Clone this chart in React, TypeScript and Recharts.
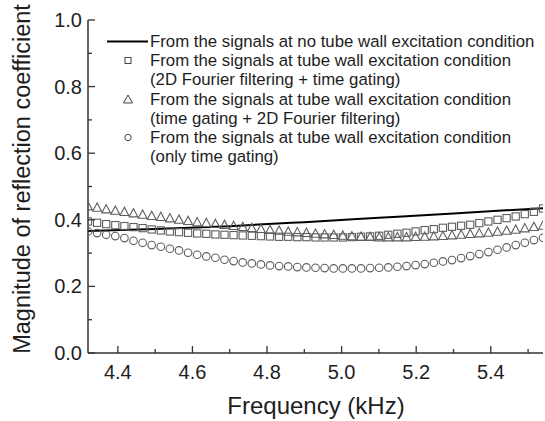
import React from "react";
import { ComposedChart, Line, XAxis, YAxis, Legend } from "recharts";

// frequency (kHz) of each measured point
const freqs = [
  4.32, 4.3444, 4.3688, 4.3932, 4.4176, 4.442, 4.4664, 4.4908, 4.5152, 4.5396, 4.564, 4.5884, 4.6128,
  4.6372, 4.6616, 4.686, 4.7104, 4.7348, 4.7592, 4.7836, 4.808, 4.8324, 4.8568, 4.8812, 4.9056, 4.93,
  4.9544, 4.9788, 5.0032, 5.0276, 5.052, 5.0764, 5.1008, 5.1252, 5.1496, 5.174, 5.1984, 5.2228, 5.2472,
  5.2716, 5.296, 5.3204, 5.3448, 5.3692, 5.3936, 5.418, 5.4424, 5.4668, 5.4912, 5.5156, 5.54,
];

// 2D Fourier filtering + time gating (squares)
const squareVals = [
  0.395, 0.391, 0.387, 0.384, 0.381, 0.378, 0.375, 0.371, 0.368, 0.365, 0.363, 0.361, 0.359,
  0.358, 0.356, 0.355, 0.354, 0.353, 0.352, 0.351, 0.35, 0.349, 0.349, 0.348, 0.348, 0.347,
  0.347, 0.347, 0.347, 0.348, 0.349, 0.35, 0.352, 0.355, 0.358, 0.361, 0.365, 0.369, 0.372,
  0.376, 0.379, 0.382, 0.385, 0.39, 0.395, 0.4, 0.405, 0.41, 0.417, 0.424, 0.434,
];

// time gating + 2D Fourier filtering (triangles)
const triangleVals = [
  0.44, 0.436, 0.431, 0.427, 0.423, 0.419, 0.415, 0.411, 0.408, 0.404, 0.4, 0.396, 0.392,
  0.39, 0.387, 0.384, 0.381, 0.378, 0.375, 0.372, 0.369, 0.367, 0.364, 0.362, 0.36, 0.358,
  0.356, 0.354, 0.352, 0.35, 0.349, 0.348, 0.347, 0.347, 0.347, 0.347, 0.348, 0.349, 0.35,
  0.351, 0.353, 0.355, 0.357, 0.359, 0.361, 0.364, 0.367, 0.37, 0.374, 0.378, 0.382,
];

// only time gating (circles)
const circleVals = [
  0.365, 0.36, 0.355, 0.351, 0.345, 0.337, 0.331, 0.324, 0.319, 0.313, 0.308, 0.301, 0.295,
  0.29, 0.286, 0.28, 0.276, 0.272, 0.269, 0.266, 0.263, 0.261, 0.26, 0.258, 0.257, 0.256,
  0.255, 0.254, 0.254, 0.254, 0.254, 0.255, 0.256, 0.257, 0.259, 0.261, 0.264, 0.267, 0.271,
  0.275, 0.279, 0.285, 0.291, 0.297, 0.303, 0.31, 0.317, 0.324, 0.331, 0.339, 0.346,
];

// no tube wall excitation (solid line)
const lineFreqs = [4.32, 4.5, 4.7, 4.9, 5.1, 5.3, 5.54];
const lineVals = [0.366, 0.372, 0.381, 0.393, 0.406, 0.419, 0.435];

const xTicks = [4.4, 4.5, 4.6, 4.7, 4.8, 4.9, 5.0, 5.1, 5.2, 5.3, 5.4, 5.5];
const yTicks = [0, 0.1, 0.2, 0.3, 0.4, 0.5, 0.6, 0.7, 0.8, 0.9, 1.0];

const legendItems = [
  { marker: "line", lines: ["From the signals at no tube wall excitation condition"] },
  { marker: "square", lines: ["From the signals at tube wall excitation condition", "(2D Fourier filtering + time gating)"] },
  { marker: "triangle", lines: ["From the signals at tube wall excitation condition", "(time gating + 2D Fourier filtering)"] },
  { marker: "circle", lines: ["From the signals at tube wall excitation condition", "(only time gating)"] },
];

const rows = freqs.map((f, i) => ({ f, s: squareVals[i], t: triangleVals[i], c: circleVals[i] }));
const lineData = lineFreqs.map((f, i) => ({ f, v: lineVals[i] }));

const FONT = "'Liberation Sans', Arial, sans-serif";
const AXIS = "#333";
const MARK = "#5e5e5e";
const TEXT = "#1e1e1e";

const isMajor = (v: number) => Math.round(v * 10) % 2 === 0;

const XTick = (props: any) => {
  const { x, y, payload } = props;
  const major = isMajor(payload.value);
  return (
    <g>
      <line x1={x} x2={x} y1={y} y2={y - (major ? 7 : 4)} stroke={AXIS} strokeWidth={1.3} />
      {major && (
        <text x={x} y={y + 19} textAnchor="middle" dominantBaseline="central" fontSize={20} fill={TEXT} fontFamily={FONT}>
          {payload.value.toFixed(1)}
        </text>
      )}
    </g>
  );
};

const YTick = (props: any) => {
  const { x, y, payload } = props;
  const major = isMajor(payload.value);
  return (
    <g>
      <line x1={x} x2={x + (major ? 7 : 4)} y1={y} y2={y} stroke={AXIS} strokeWidth={1.3} />
      {major && (
        <text x={x - 6} y={y} textAnchor="end" dominantBaseline="central" fontSize={20} fill={TEXT} fontFamily={FONT}>
          {payload.value.toFixed(1)}
        </text>
      )}
    </g>
  );
};

const squareDot = (p: any) => (
  <rect key={`s-${p.index}`} x={p.cx - 3.6} y={p.cy - 3.6} width={7.2} height={7.2} fill="none" stroke={MARK} strokeWidth={1.1} />
);
const triangleDot = (p: any) => (
  <polygon
    key={`t-${p.index}`}
    points={`${p.cx},${p.cy - 4.9} ${p.cx - 4.4},${p.cy + 3.4} ${p.cx + 4.4},${p.cy + 3.4}`}
    fill="none"
    stroke={MARK}
    strokeWidth={1.1}
  />
);
const circleDot = (p: any) => (
  <circle key={`c-${p.index}`} cx={p.cx} cy={p.cy} r={3.8} fill="none" stroke={MARK} strokeWidth={1.1} />
);

const LegendMarker = ({ kind }: { kind: string }) => (
  <svg width={46} height={19} style={{ display: "block", flexShrink: 0 }}>
    {kind === "line" && <line x1={3} x2={44} y1={9.5} y2={9.5} stroke="#000" strokeWidth={2} />}
    {kind === "square" && <rect x={21} y={6.5} width={6} height={6} fill="none" stroke="#444" strokeWidth={1} />}
    {kind === "triangle" && <polygon points="24,5 19.5,13 28.5,13" fill="none" stroke="#444" strokeWidth={1} />}
    {kind === "circle" && <circle cx={24} cy={9.5} r={3.2} fill="none" stroke="#444" strokeWidth={1} />}
  </svg>
);

const renderLegend = () => (
  <div style={{ fontFamily: FONT, fontSize: 16.8, lineHeight: "19.2px", color: TEXT }}>
    {legendItems.map((item) => (
      <div key={item.marker} style={{ display: "flex", alignItems: "flex-start" }}>
        <LegendMarker kind={item.marker} />
        <div>
          {item.lines.map((l) => (
            <div key={l} style={{ whiteSpace: "nowrap" }}>{l}</div>
          ))}
        </div>
      </div>
    ))}
  </div>
);

export default function App() {
  return (
    <div style={{ position: "absolute", left: 0, top: 0, background: "#fff", fontFamily: FONT }}>
      <ComposedChart width={545} height={421} data={rows} margin={{ top: 20, right: 2, bottom: 0, left: 0 }}>
        <XAxis
          dataKey="f"
          type="number"
          domain={[4.32, 5.54]}
          allowDataOverflow
          ticks={xTicks}
          tick={<XTick />}
          tickSize={0}
          tickMargin={0}
          tickLine={false}
          height={68}
          axisLine={{ stroke: AXIS, strokeWidth: 1.5 }}
          label={{
            content: () => (
              <text x={316} y={405} textAnchor="middle" dominantBaseline="central" fontSize={24} fill={TEXT} fontFamily={FONT}>
                Frequency (kHz)
              </text>
            ),
          }}
        />
        <XAxis xAxisId="top" orientation="top" type="number" domain={[0, 1]} height={0} tick={false} tickLine={false} axisLine={{ stroke: AXIS, strokeWidth: 1.5 }} />
        <YAxis
          type="number"
          domain={[0, 1]}
          ticks={yTicks}
          tick={<YTick />}
          tickSize={0}
          tickMargin={0}
          tickLine={false}
          width={88}
          axisLine={{ stroke: AXIS, strokeWidth: 1.5 }}
          label={{
            content: () => (
              <text transform="translate(22, 179) rotate(-90)" textAnchor="middle" dominantBaseline="central" fontSize={23.5} fill={TEXT} fontFamily={FONT}>
                Magnitude of reflection coefficient
              </text>
            ),
          }}
        />
        <YAxis yAxisId="right" orientation="right" domain={[0, 1]} width={0} tick={false} tickLine={false} axisLine={{ stroke: AXIS, strokeWidth: 1.5 }} />
        <Legend
          layout="vertical"
          align="center"
          verticalAlign="middle"
          wrapperStyle={{ top: 32, left: 104, width: 440 }}
          content={renderLegend}
        />
        <Line dataKey="s" stroke="none" dot={squareDot} activeDot={false} isAnimationActive={false} />
        <Line dataKey="t" stroke="none" dot={triangleDot} activeDot={false} isAnimationActive={false} />
        <Line dataKey="c" stroke="none" dot={circleDot} activeDot={false} isAnimationActive={false} />
        <Line data={lineData} dataKey="v" type="monotone" stroke="#000" strokeWidth={2} dot={false} activeDot={false} isAnimationActive={false} />
      </ComposedChart>
    </div>
  );
}
